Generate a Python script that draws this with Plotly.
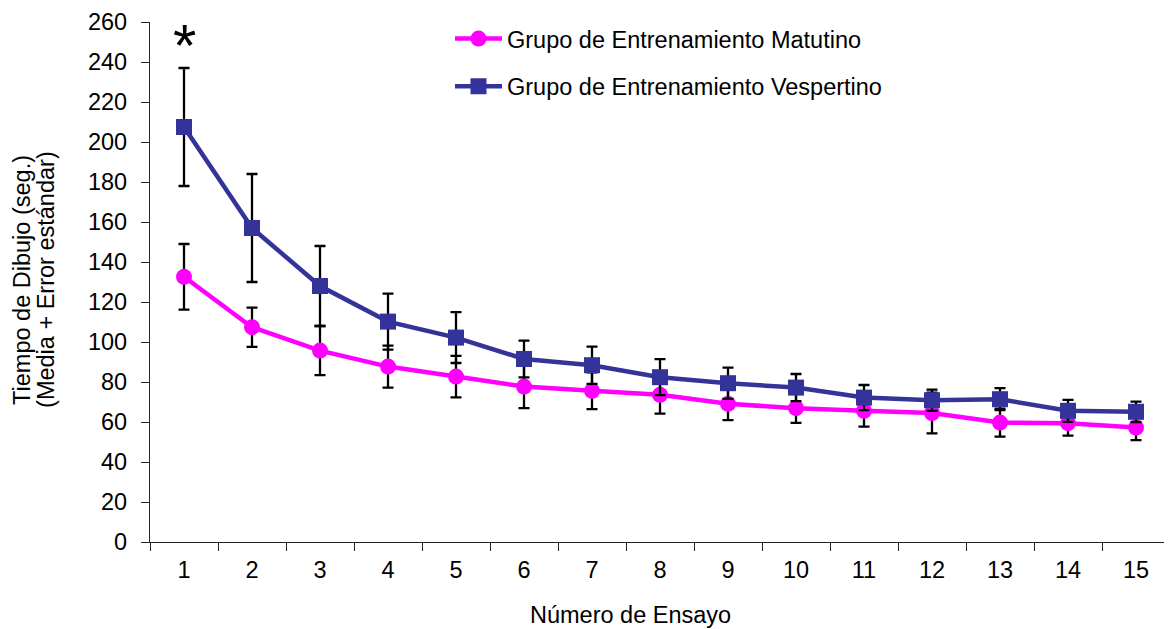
import plotly.graph_objects as go

ensayos = [str(i) for i in range(1, 16)]
matutino = [132.6, 107.4, 95.7, 87.7, 82.7, 77.7, 75.6, 73.6, 69.1, 66.9, 65.6, 64.5, 59.7, 59.4, 57.2]
matutino_err = [16.4, 9.8, 12.3, 10.5, 10.4, 10.8, 9.2, 9.4, 8.2, 7.3, 7.9, 10.2, 7.0, 6.2, 6.3]
vespertino = [207.5, 157.0, 128.0, 110.2, 102.2, 91.5, 88.4, 82.4, 79.4, 77.2, 72.2, 70.9, 71.4, 65.6, 65.1]
vespertino_err = [29.5, 27.0, 20.0, 14.0, 12.7, 9.2, 9.3, 9.0, 7.8, 6.8, 6.3, 5.3, 5.5, 5.5, 5.1]
y_ticks = list(range(0, 261, 20))

FONT = "Arial, Liberation Sans, sans-serif"
FS = 23.5

fig = go.Figure()
fig.add_trace(go.Scatter(
    x=ensayos, y=matutino, mode="lines+markers",
    name="Grupo de Entrenamiento Matutino", legendgroup="a",
    line=dict(color="#FF00FF", width=4.5),
    marker=dict(symbol="circle", size=16, color="#FF00FF"),
    error_y=dict(type="data", array=matutino_err, visible=True,
                 color="black", thickness=2.3, width=5.5),
))
fig.add_trace(go.Scatter(
    x=ensayos, y=vespertino, mode="lines+markers",
    name="Grupo de Entrenamiento Vespertino", legendgroup="b",
    line=dict(color="#333399", width=4.5),
    marker=dict(symbol="square", size=16, color="#333399"),
    error_y=dict(type="data", array=vespertino_err, visible=True,
                 color="black", thickness=2.3, width=5.5),
))

# significance asterisk over trial 1
fig.add_annotation(x=0, y=248.5, xref="x", yref="y", text="*", showarrow=False,
                   yanchor="middle",
                   font=dict(family=FONT, size=60, color="black"))

# axis titles
fig.add_annotation(x=0.4706, y=0, xref="paper", yref="paper", yshift=-73,
                   xanchor="center", yanchor="middle", showarrow=False,
                   text="Número de Ensayo",
                   font=dict(family=FONT, size=FS, color="black"))
fig.add_annotation(x=0, y=0.504, xref="paper", yref="paper", xshift=-128,
                   xanchor="center", yanchor="middle", showarrow=False,
                   textangle=-90, text="Tiempo de Dibujo (seg.)",
                   font=dict(family=FONT, size=FS, color="black"))
fig.add_annotation(x=0, y=0.504, xref="paper", yref="paper", xshift=-104,
                   xanchor="center", yanchor="middle", showarrow=False,
                   textangle=-90, text="(Media + Error estándar)",
                   font=dict(family=FONT, size=FS, color="black"))

fig.update_layout(
    width=1164, height=621,
    margin=dict(l=142, r=2, t=14, b=87),
    paper_bgcolor="white", plot_bgcolor="white",
    font=dict(family=FONT, size=FS, color="black"),
    showlegend=True,
    legend=dict(x=(450 - 150) / 1020, y=1.010, xanchor="left", yanchor="top",
                bgcolor="rgba(0,0,0,0)", tracegroupgap=14, itemwidth=47,
                font=dict(family=FONT, size=FS, color="black")),
    xaxis=dict(type="category", range=[-0.5, 14.5], tickson="boundaries",
               ticks="outside", ticklen=8, tickcolor="#222", tickwidth=1.2,
               showline=True, linecolor="#222", linewidth=1.2,
               showgrid=False, zeroline=False, automargin=False,
               ticklabelstandoff=7,
               tickfont=dict(family=FONT, size=FS)),
    yaxis=dict(range=[0, 260], tickvals=y_ticks, ticks="outside", ticklen=8,
               tickcolor="#222", tickwidth=1.2,
               showline=True, linecolor="#222", linewidth=1.2,
               showgrid=False, zeroline=False, automargin=False,
               ticklabelstandoff=9,
               tickfont=dict(family=FONT, size=FS)),
)

fig.write_html("out.html")
